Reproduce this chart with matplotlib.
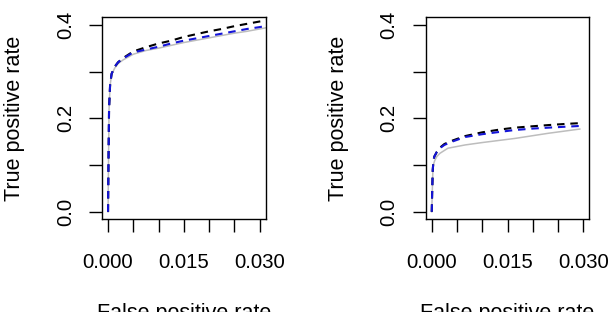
import matplotlib
matplotlib.use('Agg')
import matplotlib.pyplot as plt

plt.rcParams['font.family'] = ['Liberation Sans', 'DejaVu Sans']

# left panel
left_fpr = [0, 0.0001, 0.0002, 0.0004, 0.0007, 0.0013, 0.002, 0.003, 0.005, 0.0075,
            0.01, 0.0125, 0.015, 0.0175, 0.02, 0.0225, 0.025, 0.0275, 0.03, 0.0315]
left_gray = [0, 0.12, 0.22, 0.27, 0.293, 0.307, 0.317, 0.325, 0.337, 0.345,
             0.35, 0.356, 0.362, 0.367, 0.372, 0.377, 0.382, 0.386, 0.391, 0.394]
left_black = [0, 0.12, 0.22, 0.27, 0.295, 0.31, 0.32, 0.329, 0.343, 0.352,
              0.36, 0.366, 0.374, 0.38, 0.386, 0.391, 0.397, 0.402, 0.407, 0.410]
left_blue = [0, 0.12, 0.22, 0.27, 0.295, 0.31, 0.32, 0.328, 0.341, 0.347,
             0.353, 0.36, 0.366, 0.371, 0.376, 0.381, 0.386, 0.391, 0.395, 0.398]

# right panel
right_fpr = [0, 0.0001, 0.0002, 0.00035, 0.0005, 0.001, 0.0016, 0.0025, 0.004, 0.0066,
             0.01, 0.0135, 0.0165, 0.02, 0.0231, 0.0265, 0.03]
right_black = [0, 0.05, 0.09, 0.11, 0.118, 0.128, 0.137, 0.145, 0.152, 0.162,
               0.17, 0.176, 0.18, 0.183, 0.1855, 0.188, 0.19]
right_blue = [0, 0.05, 0.09, 0.11, 0.118, 0.128, 0.136, 0.143, 0.15, 0.16,
              0.166, 0.171, 0.175, 0.178, 0.18, 0.182, 0.184]
right_gray_fpr = [0, 0.0001, 0.0002, 0.0003, 0.0006, 0.001, 0.0016, 0.0032, 0.0066,
                  0.0099, 0.0165, 0.0231, 0.0293]
right_gray = [0, 0.04, 0.08, 0.1, 0.11, 0.118, 0.125, 0.136, 0.143,
              0.148, 0.157, 0.168, 0.177]

x_ticks = [0, 0.005, 0.01, 0.015, 0.02, 0.025, 0.03]
x_ticklabels = ['0.000', '', '', '0.015', '', '', '0.030']
y_ticks = [0, 0.1, 0.2, 0.3, 0.4]
y_ticklabels = ['0.0', '', '0.2', '', '0.4']

fig = plt.figure(figsize=(6.14, 3.12), dpi=100)
ax1 = fig.add_axes([0.1661, 0.2971, 0.2666, 0.6475])
ax2 = fig.add_axes([0.6933, 0.2971, 0.2666, 0.6475])

panels = [
    (ax1, left_fpr, left_gray, left_fpr, left_black, left_blue),
    (ax2, right_gray_fpr, right_gray, right_fpr, right_black, right_blue),
]

for ax, gx, gy, fx, by, bly in panels:
    ax.plot(gx, gy, color='#bdbdbd', lw=1.1, zorder=2)
    l1, = ax.plot(fx, by, color='black', lw=1.5, zorder=3)
    l2, = ax.plot(fx, bly, color='#1414d8', lw=1.5, zorder=4)
    for ln in (l1, l2):
        ln.set_dashes([3.6, 2.8])
    ax.set_xlim(-0.0012, 0.0312)
    ax.set_ylim(-0.016, 0.416)
    ax.set_xticks(x_ticks)
    ax.set_xticklabels(x_ticklabels)
    ax.set_yticks(y_ticks)
    ax.set_yticklabels(y_ticklabels, rotation=90, va='center')
    ax.tick_params(axis='both', direction='out', length=9.5, width=1.0, labelsize=14.7)
    ax.tick_params(axis='x', pad=15)
    ax.tick_params(axis='y', pad=10)
    for s in ax.spines.values():
        s.set_linewidth(1.0)
    ax.set_xlabel('False positive rate', fontsize=15.5, labelpad=22)
    ax.set_ylabel('True positive rate', fontsize=15.5, labelpad=22)

fig.savefig('out.png', dpi=100)
